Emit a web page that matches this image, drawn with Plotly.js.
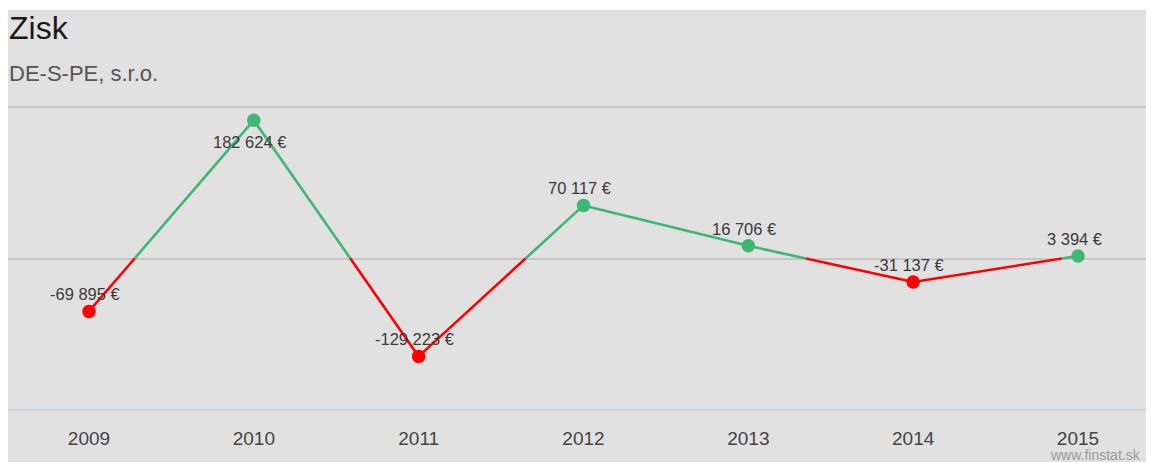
<!DOCTYPE html>
<html>
<head>
<meta charset="utf-8">
<script src="https://cdn.plot.ly/plotly-3.0.1.min.js"></script>
<style>
html,body{margin:0;padding:0;background:#ffffff;}
#chart{position:absolute;left:8px;top:10px;width:1138px;height:452px;}
</style>
</head>
<body>
<div id="chart"></div>
<script>
// ---- data ----
const years = [2009, 2010, 2011, 2012, 2013, 2014, 2015];
const profit = [-69895, 182624, -129223, 70117, 16706, -31137, 3394];
const titleText = "Zisk";
const subtitleText = "DE-S-PE, s.r.o.";
const creditText = "www.finstat.sk";

// ---- styles ----
const GREEN = "#3fb671";
const RED = "#ff0000";
const FONT = "'Liberation Sans', Arial, sans-serif";
const belowLabelYears = [2010];

function fmt(v) {
  const s = Math.abs(v).toString().replace(/\B(?=(\d{3})+(?!\d))/g, " ");
  return (v < 0 ? "-" : "") + s + " €";
}

// split the line at zero crossings into positive / negative pieces
const posX = [], posY = [], negX = [], negY = [];
for (let i = 0; i < years.length - 1; i++) {
  const x0 = years[i], y0 = profit[i], x1 = years[i + 1], y1 = profit[i + 1];
  const pieces = [];
  if ((y0 >= 0) === (y1 >= 0)) {
    pieces.push([[x0, y0], [x1, y1], y0 >= 0]);
  } else {
    const t = y0 / (y0 - y1);
    const xc = x0 + t * (x1 - x0);
    pieces.push([[x0, y0], [xc, 0], y0 >= 0]);
    pieces.push([[xc, 0], [x1, y1], y1 >= 0]);
  }
  pieces.forEach(p => {
    const X = p[2] ? posX : negX, Y = p[2] ? posY : negY;
    X.push(p[0][0], p[1][0], null);
    Y.push(p[0][1], p[1][1], null);
  });
}

const traces = [
  {x: posX, y: posY, mode: "lines", line: {color: GREEN, width: 2.6}, hoverinfo: "skip", cliponaxis: false},
  {x: negX, y: negY, mode: "lines", line: {color: RED, width: 2.6}, hoverinfo: "skip", cliponaxis: false},
  {x: years, y: profit, mode: "markers", cliponaxis: false,
   marker: {size: 13.5, color: profit.map(v => v >= 0 ? GREEN : RED)}}
];

const annotations = years.map((yr, i) => {
  const below = belowLabelYears.includes(yr);
  return {
    x: yr, y: profit[i], xref: "x", yref: "y", text: fmt(profit[i]),
    showarrow: false, xshift: -4, yshift: below ? -22 : 17,
    font: {family: FONT, size: 16.5, color: "#3a3a3a"}
  };
});
annotations.push(
  {xref: "paper", yref: "paper", x: 0, y: 1.227, xanchor: "left", yanchor: "middle",
   text: titleText, showarrow: false, xshift: -1,
   font: {family: FONT, size: 32, color: "#1a1a1a"}},
  {xref: "paper", yref: "paper", x: 0, y: 1.085, xanchor: "left", yanchor: "middle",
   text: subtitleText, showarrow: false, xshift: -1,
   font: {family: FONT, size: 22, color: "#555555"}},
  {xref: "paper", yref: "paper", x: 0.9965, y: -0.12, xanchor: "right", yanchor: "middle",
   text: creditText, showarrow: false, borderpad: 0,
   font: {family: FONT, size: 14, color: "#9a9a9a"}}
);

const layout = {
  width: 1138, height: 452,
  margin: {l: 0, r: 0, t: 90, b: 45, pad: 0},
  paper_bgcolor: "#e1e1e1",
  plot_bgcolor: "#e1e1e1",
  showlegend: false,
  xaxis: {
    range: [2008.5086, 2015.4125],
    tickvals: years, ticktext: years.map(String),
    showgrid: false, zeroline: false, showline: false, ticks: "",
    ticklabelstandoff: 8,
    tickfont: {family: FONT, size: 19, color: "#444444"},
    fixedrange: true
  },
  yaxis: {
    range: [-209241, 209241],
    tickvals: [0, 200000],
    showticklabels: false, showgrid: true, gridcolor: "#c6c6c6", gridwidth: 2,
    zeroline: false, showline: false, ticks: "", fixedrange: true
  },
  shapes: [
    {type: "line", xref: "paper", yref: "y", x0: 0, x1: 1, y0: -200000, y1: -200000,
     line: {color: "#c8d2e2", width: 2}, layer: "below"}
  ],
  annotations: annotations
};

Plotly.newPlot("chart", traces, layout, {displayModeBar: false, staticPlot: true});
</script>
</body>
</html>
